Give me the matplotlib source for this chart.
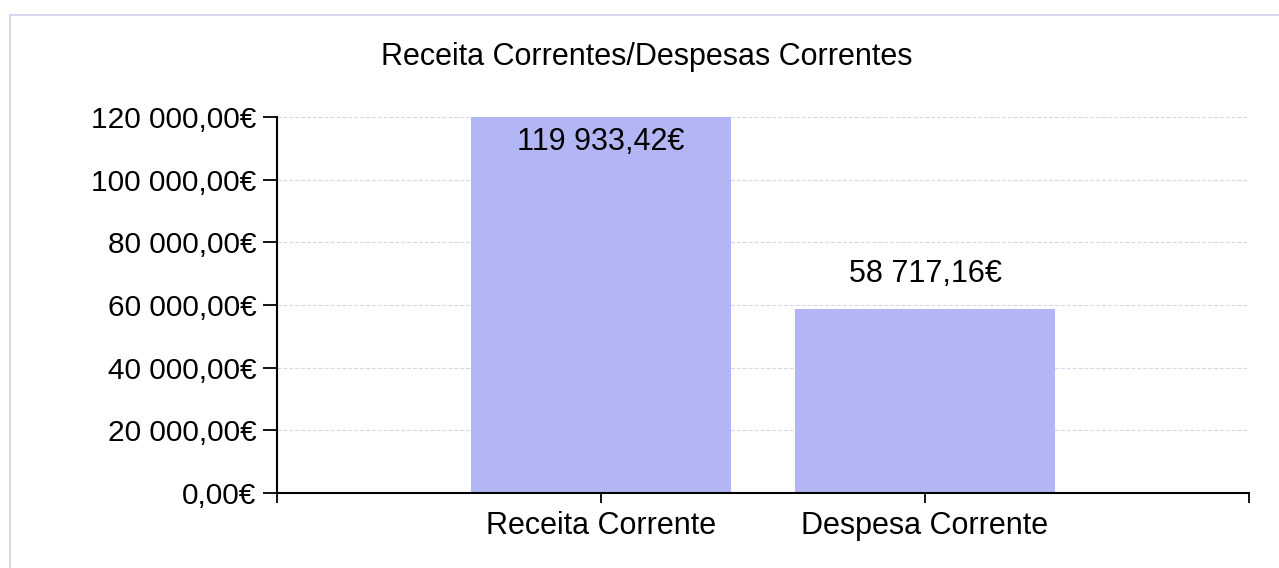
import matplotlib.pyplot as plt
from matplotlib.patches import Rectangle

plt.rcParams['font.family'] = ['Liberation Sans', 'DejaVu Sans']

# dados
categorias = ['Receita Corrente', 'Despesa Corrente']
valores = [119933.42, 58717.16]
rotulos = ['119 933,42€', '58 717,16€']
yticks = [0, 20000, 40000, 60000, 80000, 100000, 120000]
ytick_labels = ['0,00€', '20 000,00€', '40 000,00€', '60 000,00€',
                '80 000,00€', '100 000,00€', '120 000,00€']

fig = plt.figure(figsize=(12.79, 5.68), dpi=100)
ax = fig.add_axes([0.2166, 0.132, 0.76, 0.662])

# moldura clara à volta do gráfico
fig.add_artist(Rectangle((10 / 1279, -0.1), 1.2, 1.1 - 15 / 568,
                         transform=fig.transFigure, fill=False,
                         edgecolor='#cfcfee', linewidth=1.2, clip_on=False))

x = list(range(len(categorias)))
ax.bar(x, valores, width=0.8, color='#b3b6f4', zorder=2)

# rotulos das barras
ax.text(x[0], valores[0] - 3000, rotulos[0], ha='center', va='top', fontsize=22)
ax.text(x[1], valores[1] + 6500, rotulos[1], ha='center', va='bottom', fontsize=22)

ax.set_xlim(-1, 2)
ax.set_ylim(0, 120000)
ax.set_xticks([-1, 0, 1, 2])
ax.set_xticklabels(['', categorias[0], categorias[1], ''], fontsize=22)
ax.set_yticks(yticks)
ax.set_yticklabels(ytick_labels, fontsize=21.5)
ax.tick_params(axis='y', length=10, width=1.3, pad=5)
ax.tick_params(axis='x', length=7, width=1.3, pad=6)

for s in ['top', 'right']:
    ax.spines[s].set_visible(False)
for s in ['left', 'bottom']:
    ax.spines[s].set_linewidth(1.5)

ax.grid(axis='y', color='#d8d8e8', linestyle='--', linewidth=0.8, zorder=0)
ax.set_axisbelow(True)

fig.text(0.506, 0.90, 'Receita Correntes/Despesas Correntes',
         ha='center', va='center', fontsize=22)

fig.savefig('out.png', dpi=100)
